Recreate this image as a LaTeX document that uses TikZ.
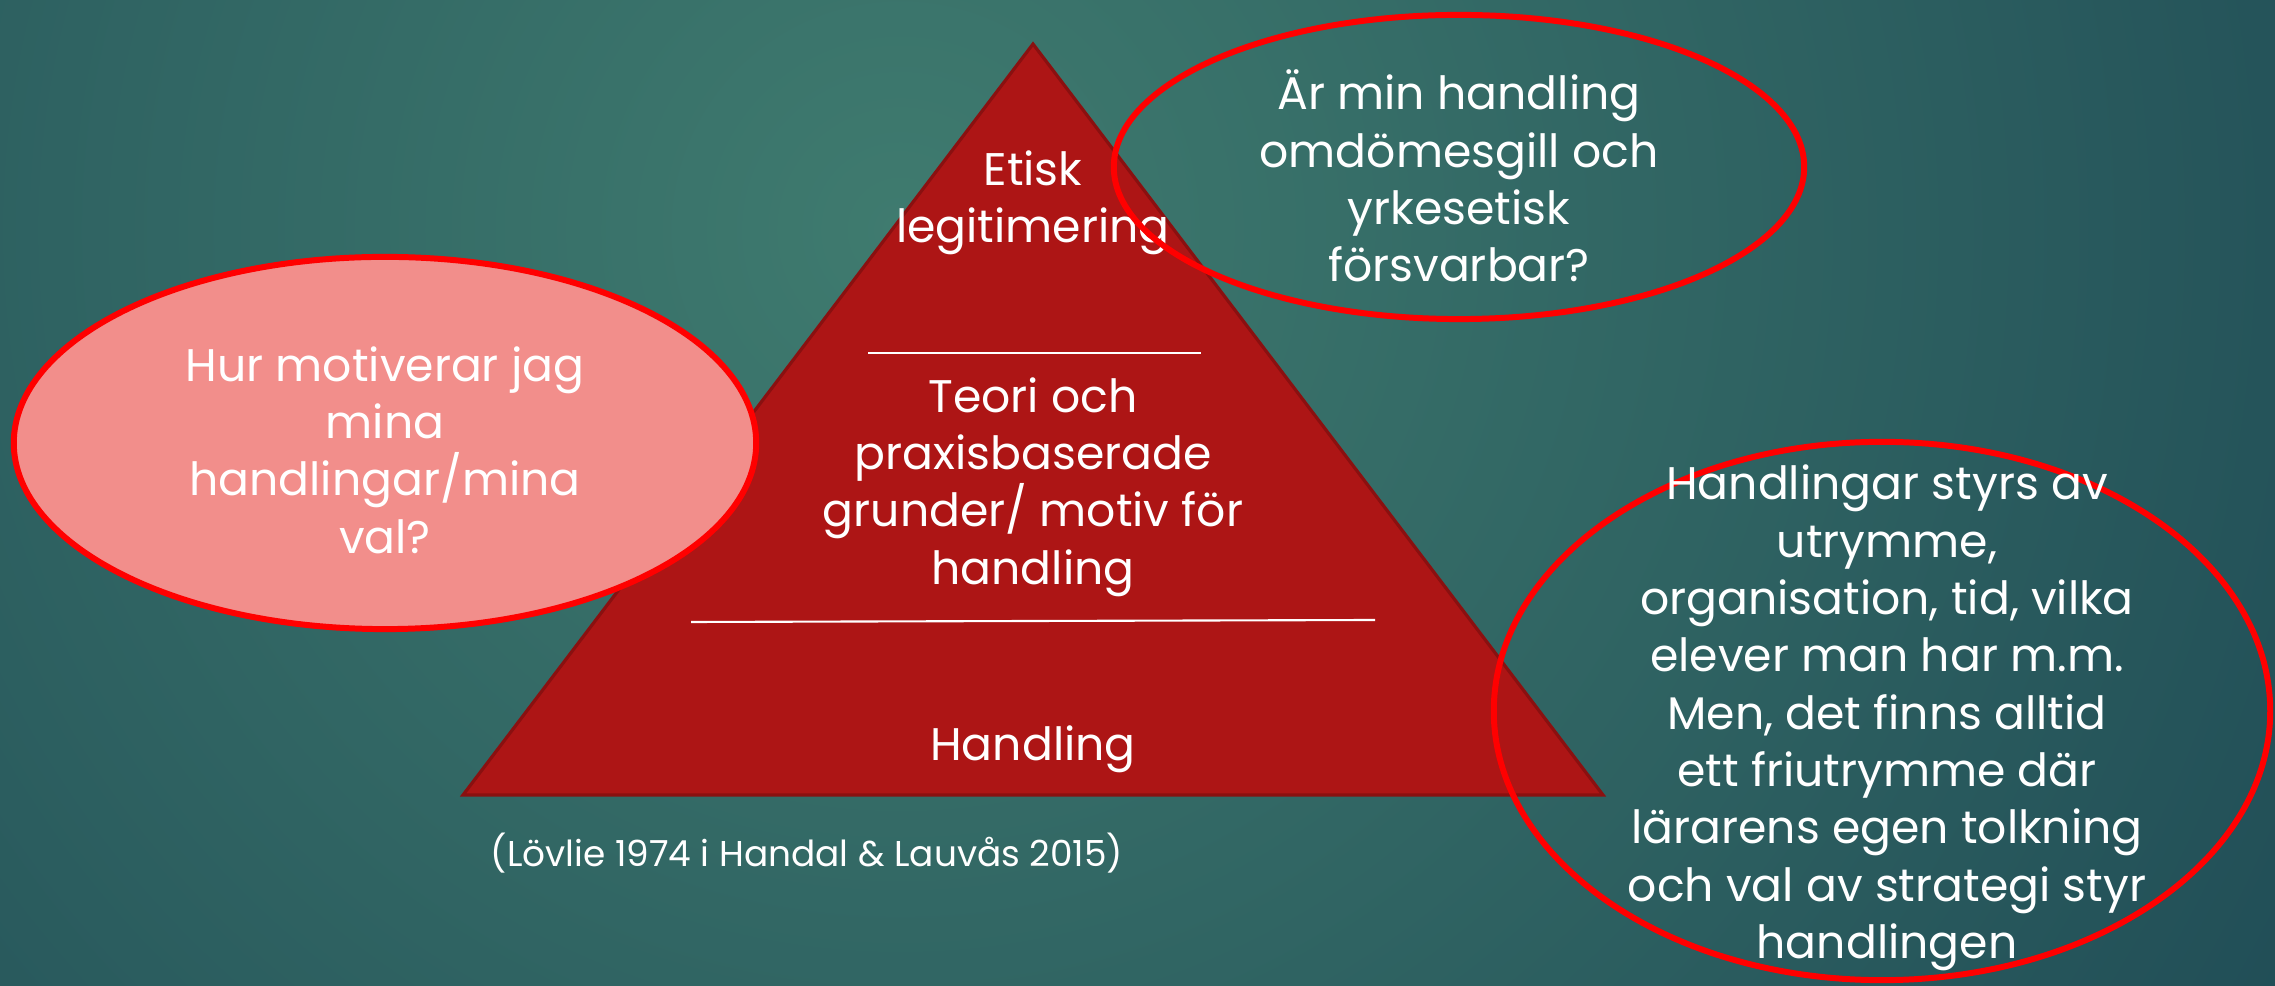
\documentclass[tikz,border=0pt]{standalone}
\usepackage{fontspec}
\setmainfont{Poppins}
\usetikzlibrary{shapes.geometric}
\definecolor{bgdark}{HTML}{1B4552}
\definecolor{bglight}{HTML}{3F7B6F}
\definecolor{tri}{HTML}{AD1515}
\definecolor{triedge}{HTML}{8A1010}
\definecolor{ring}{HTML}{FF0000}
\definecolor{pinkfill}{HTML}{F28E8B}
\begin{document}
\begin{tikzpicture}[x=0.01cm,y=-0.01cm,
  maintext/.style={text=white, align=center, inner sep=0pt, font={\fontsize{13}{16.3}\selectfont}},
  bubble/.style={ellipse, draw=ring, line width=1.7pt, inner sep=0pt},
  sepline/.style={draw=white, line width=0.6pt}]
\useasboundingbox (0,0) rectangle (2275,986);
\begin{scope}
\clip (0,0) rectangle (2275,986);
\fill[bgdark] (0,0) rectangle (2275,986);
\shade[inner color=bglight, outer color=bgdark] (900,230) circle (1900);
\end{scope}
% pyramid
\coordinate (apex) at (1033,44);
\coordinate (bl) at (463,795);
\coordinate (br) at (1603,795);
\filldraw[fill=tri, draw=triedge, line width=0.9pt, line join=miter] (apex) -- (br) -- (bl) -- cycle;
\coordinate (l1a) at (868,353); \coordinate (l1b) at (1201,353);
\coordinate (l2a) at (691,622); \coordinate (l2b) at (1375,620);
\draw[sepline] (l1a) -- (l1b);
\draw[sepline] (l2a) -- (l2b);
\node[maintext] (etisk) at (1033,203) {Etisk\\legitimering};
\node[maintext] (teori) at (1033,487) {Teori och\\praxisbaserade\\grunder/ motiv för\\handling};
\node[maintext] (handling) at (1033,749) {Handling};
\node[text=white, font={\fontsize{10.2}{12}\selectfont}] (cite) at (807,853) {(Lövlie 1974 i Handal \& Lauvås 2015)};
% bubbles
\node[bubble, fill=pinkfill, minimum width=7.42cm, minimum height=3.72cm] (left) at (385,443) {};
\node[maintext] (lefttext) at (385,450) {Hur motiverar jag\\mina\\handlingar/mina\\val?};
\node[bubble, minimum width=6.90cm, minimum height=3.04cm] (top) at (1459,167) {};
\node[maintext] (toptext) at (1459,176) {Är min handling\\omdömesgill och\\yrkesetisk\\försvarbar?};
\node[bubble, minimum width=7.76cm, minimum height=5.38cm] (right) at (1882,711) {};
\node[maintext] (righttext) at (1887,718) {Handlingar styrs av\\utrymme,\\organisation, tid, vilka\\elever man har m.m.\\Men, det finns alltid\\ett friutrymme där\\lärarens egen tolkning\\och val av strategi styr\\handlingen};
\end{tikzpicture}
\end{document}
